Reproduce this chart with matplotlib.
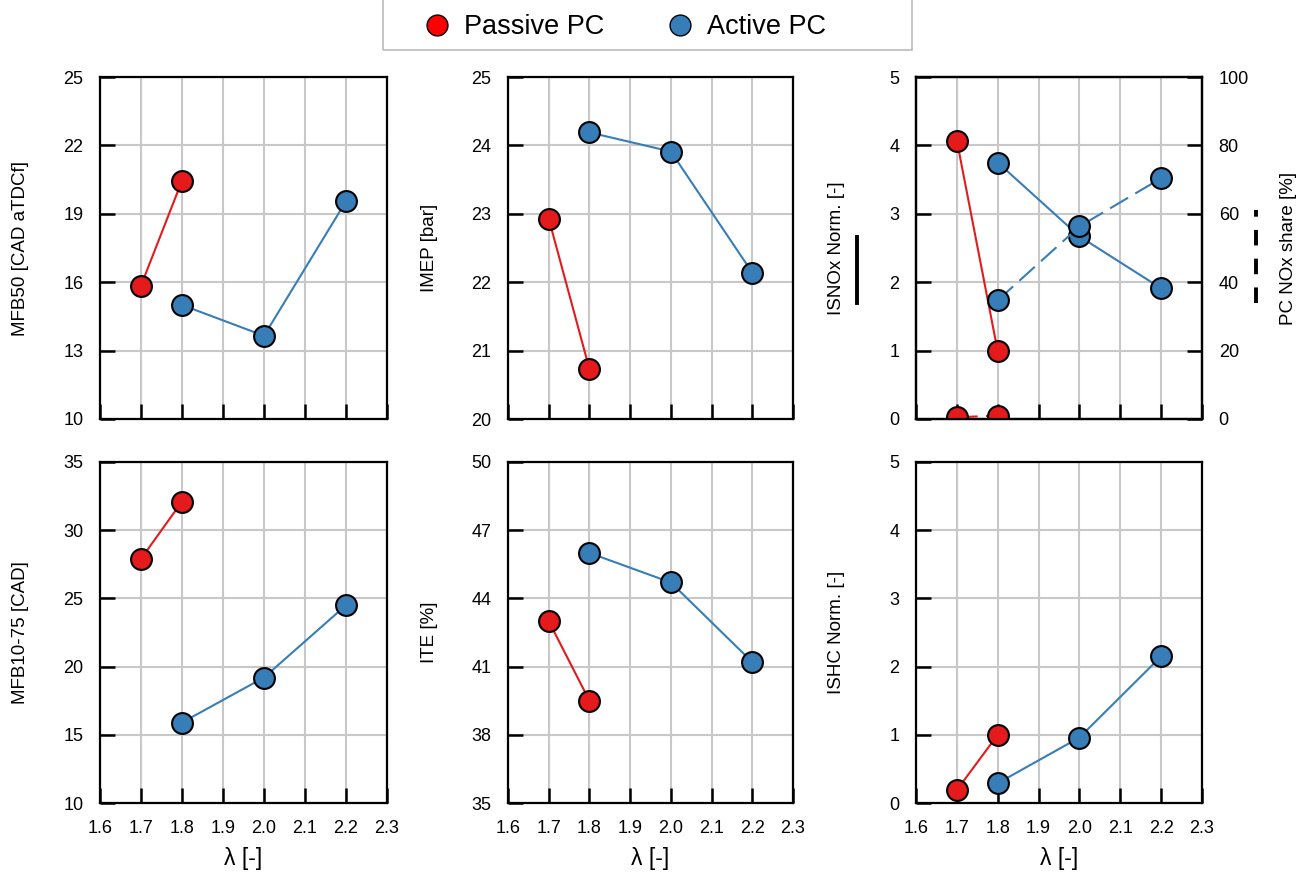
import numpy as np
import matplotlib
matplotlib.use("Agg")
import matplotlib.pyplot as plt
from matplotlib.lines import Line2D
from matplotlib.patches import Rectangle

plt.rcParams['font.family'] = ['Liberation Sans', 'DejaVu Sans']

# lambda values
lam_passive = [1.7, 1.8]
lam_active = [1.8, 2.0, 2.2]

# MFB50 [CAD aTDCf]
mfb50_passive = [15.85, 20.45]
mfb50_active = [15.0, 13.65, 19.55]

# IMEP [bar]
imep_passive = [22.93, 20.73]
imep_active = [24.19, 23.91, 22.14]

# ISNOx Norm. [-]
isnox_passive = [4.07, 0.99]
isnox_active = [3.75, 2.67, 1.91]
# PC NOx share [%]
pcnox_passive = [0.5, 1.0]
pcnox_active = [34.7, 56.3, 70.4]

# MFB10-75 [CAD]
mfb1075_passive = [27.9, 32.1]
mfb1075_active = [15.9, 19.2, 24.5]

# ITE [%]
ite_passive = [43.0, 39.5]
ite_active = [46.0, 44.7, 41.2]

# ISHC Norm. [-]
ishc_passive = [0.19, 1.0]
ishc_active = [0.29, 0.96, 2.15]

xticks = [1.6, 1.7, 1.8, 1.9, 2.0, 2.1, 2.2, 2.3]

RED = '#E41A1C'
BLUE = '#377EB8'
GRID = '#C8C8C8'

fig = plt.figure(figsize=(13.06, 8.74), dpi=100)

W, H = 1306.0, 874.0
cols = [(100, 387), (508, 793), (916, 1202)]
rows = [(77, 419), (462, 803)]

TICKS = dict(direction='in', length=11, width=1.8, labelsize=13, pad=12)


def make_ax(r, c):
    x0, x1 = cols[c]
    y0, y1 = rows[r]
    ax = fig.add_axes([x0 / W, 1 - y1 / H, (x1 - x0) / W, (y1 - y0) / H])
    ax.set_xlim(1.6, 2.3)
    ax.set_xticks(xticks)
    ax.grid(True, color=GRID, lw=1.5)
    ax.set_axisbelow(True)
    for s in ax.spines.values():
        s.set_linewidth(1.6)
        s.set_color('black')
    ax.tick_params(right=False, top=False, **TICKS)
    if r == 0:
        ax.tick_params(labelbottom=False)
    else:
        ax.set_xticklabels(['%.1f' % t for t in xticks])
        ax.set_xlabel('λ [-]', fontsize=16.5)
        ax.xaxis.set_label_coords(0.5, -0.128)
    return ax


def plot_pair(ax, yp, ya, ls='-', dashes=None):
    kw = dict(marker='o', ms=15, mec='black', mew=1.5, lw=1.5)
    if dashes is not None:
        kw['dashes'] = dashes
    ax.plot(lam_passive, yp, color=RED, mfc=RED, ls=ls, **kw)
    ax.plot(lam_active, ya, color=BLUE, mfc=BLUE, ls=ls, **kw)


def ylab(ax, text):
    ax.set_ylabel(text, fontsize=13.5)
    ax.yaxis.set_label_coords(-0.247, 0.5)


# MFB50
ax = make_ax(0, 0)
plot_pair(ax, mfb50_passive, mfb50_active)
ax.set_ylim(10, 25)
ax.set_yticks([10, 13, 16, 19, 22, 25])
ylab(ax, 'MFB50 [CAD aTDCf]')

# IMEP
ax = make_ax(0, 1)
plot_pair(ax, imep_passive, imep_active)
ax.set_ylim(20, 25)
ax.set_yticks([20, 21, 22, 23, 24, 25])
ylab(ax, 'IMEP [bar]')

# ISNOx + PC NOx share
ax = make_ax(0, 2)
plot_pair(ax, isnox_passive, isnox_active)
ax.set_ylim(0, 5)
ax.set_yticks([0, 1, 2, 3, 4, 5])
ylab(ax, 'ISNOx Norm. [-]')
ax2 = ax.twinx()
plot_pair(ax2, pcnox_passive, pcnox_active, ls='--', dashes=(10, 4))
ax2.set_ylim(0, 100)
ax2.set_yticks([0, 20, 40, 60, 80, 100])
ax2.tick_params(**TICKS)
for s in ax2.spines.values():
    s.set_linewidth(1.6)
ax2.set_ylabel('PC NOx share [%]', fontsize=13.5)
ax2.yaxis.set_label_coords(1.273, 0.5)
# line-style keys next to the axis labels
ax.add_line(Line2D([-0.206, -0.206], [0.339, 0.532], transform=ax.transAxes,
                   color='black', lw=2.8, clip_on=False))
ax2.add_line(Line2D([1.189, 1.189], [0.339, 0.611], transform=ax2.transAxes,
                    color='black', lw=2.8, ls='--', dashes=(4.0, 3.4), clip_on=False))

# MFB10-75
ax = make_ax(1, 0)
plot_pair(ax, mfb1075_passive, mfb1075_active)
ax.set_ylim(10, 35)
ax.set_yticks([10, 15, 20, 25, 30, 35])
ylab(ax, 'MFB10-75 [CAD]')

# ITE
ax = make_ax(1, 1)
plot_pair(ax, ite_passive, ite_active)
ax.set_ylim(35, 50)
ax.set_yticks([35, 38, 41, 44, 47, 50])
ylab(ax, 'ITE [%]')

# ISHC
ax = make_ax(1, 2)
plot_pair(ax, ishc_passive, ishc_active)
ax.set_ylim(0, 5)
ax.set_yticks([0, 1, 2, 3, 4, 5])
ylab(ax, 'ISHC Norm. [-]')

# legend
handles = [
    Line2D([], [], ls='none', marker='o', ms=15, mfc='#FF0000', mec='black', mew=1),
    Line2D([], [], ls='none', marker='o', ms=15, mfc=BLUE, mec='black', mew=1),
]
fig.legend(handles, ['Passive PC', 'Active PC'], loc='center left',
           bbox_to_anchor=(423 / W, 1 - 27 / H), ncol=2, fontsize=19.5,
           frameon=False, handletextpad=0.5, columnspacing=2.3,
           borderpad=0, borderaxespad=0, handlelength=1.0)
fig.add_artist(Rectangle((383 / W, 1 - 50 / H), 529 / W, 60 / H,
                         transform=fig.transFigure, fill=False,
                         edgecolor='#BBBBBB', lw=1.2))

fig.savefig('out.png', dpi=100)
